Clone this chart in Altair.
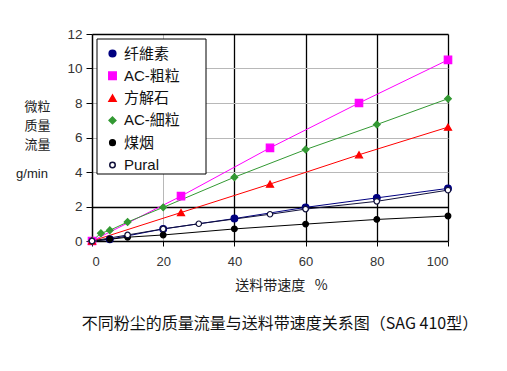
import altair as alt
import pandas as pd

series_names = ["纤維素", "AC-粗粒", "方解石", "AC-細粒", "煤烟", "Pural"]

x_fiber = [0, 5, 20, 40, 60, 80, 100]
y_fiber = [0, 0.1, 0.7, 1.3, 1.95, 2.5, 3.05]
x_acc = [0, 25, 50, 75, 100]
y_acc = [0, 2.6, 5.4, 8.0, 10.5]
x_calc = [0, 25, 50, 75, 100]
y_calc = [0, 1.65, 3.3, 5.0, 6.6]
x_acf = [0, 2.5, 5, 10, 20, 40, 60, 80, 100]
y_acf = [0, 0.45, 0.62, 1.1, 1.95, 3.7, 5.3, 6.75, 8.25]
x_soot = [0, 5, 10, 20, 40, 60, 80, 100]
y_soot = [0, 0.1, 0.22, 0.35, 0.7, 0.98, 1.25, 1.45]
x_pural = [0, 10, 20, 30, 50, 60, 80, 100]
y_pural = [0, 0.35, 0.7, 1.0, 1.55, 1.85, 2.3, 2.95]

x_ticks = [0, 20, 40, 60, 80, 100]
y_ticks = [0, 2, 4, 6, 8, 10, 12]
caption = "不同粉尘的质量流量与送料带速度关系图（SAG 410型）"
x_title = "送料带速度\u00a0\u00a0\u00a0%"
y_title = ["微粒", "质量", "流量"]
y_unit = "g/min"

fill_colors = ["#000080", "#ff00ff", "#ff0000", "#339933", "#000000", "#ffffff"]
stroke_colors = ["#000080", "#ff00ff", "#ff0000", "#339933", "#000000", "#10103a"]
shapes = ["circle", "square", "triangle-up", "diamond", "circle", "circle"]
sizes = [45, 55, 50, 45, 32, 30]

rows = []
for name, xs, ys in zip(series_names,
                        [x_fiber, x_acc, x_calc, x_acf, x_soot, x_pural],
                        [y_fiber, y_acc, y_calc, y_acf, y_soot, y_pural]):
    for i, (a, b) in enumerate(zip(xs, ys)):
        rows.append({"series": name, "speed": a, "flow": b, "order": i})
df = pd.DataFrame(rows)

FONT = "Liberation Sans, Noto Sans CJK SC"
CJK = "Noto Sans CJK SC"
LIGHT = "#b8b8b8"

x_axis = alt.Axis(values=x_ticks, title=x_title,
                  titleX=189, titleY=44, titleBaseline="middle",
                  titleFont=CJK, titleFontSize=14, titleFontWeight="normal",
                  titleColor="#222",
                  labelFont=FONT, labelFontSize=13, labelColor="#333",
                  labelPadding=9, tickSize=5, tickColor="black",
                  domainColor="black", domainWidth=1.5,
                  grid=True,
                  gridColor={"condition": {"test": "datum.value >= 40", "value": "#000000"}, "value": LIGHT},
                  gridWidth={"condition": {"test": "datum.value >= 40", "value": 1.3}, "value": 1})
y_axis = alt.Axis(values=y_ticks, title=y_title,
                  titleAngle=0, titleX=-55, titleY=66, titleAlign="center",
                  titleBaseline="top", titleLineHeight=19,
                  titleFont=CJK, titleFontSize=13, titleFontWeight="normal",
                  titleColor="#222",
                  labelFont=FONT, labelFontSize=13.5, labelColor="#333",
                  labelPadding=4, tickSize=6, tickColor="black",
                  domainColor="black", domainWidth=1.5,
                  grid=True,
                  gridColor={"condition": {"test": "datum.value == 2 || datum.value == 12", "value": "#000000"}, "value": LIGHT},
                  gridWidth={"condition": {"test": "datum.value == 2 || datum.value == 12", "value": 1.5}, "value": 1})

x_enc = alt.X("speed:Q", scale=alt.Scale(domain=[0, 100], nice=False), axis=x_axis)
y_enc = alt.Y("flow:Q", scale=alt.Scale(domain=[0, 12], nice=False), axis=y_axis)

base = alt.Chart(df)

lines = base.mark_line(strokeWidth=1).encode(
    x=x_enc, y=y_enc,
    stroke=alt.Stroke("series:N", scale=alt.Scale(domain=series_names, range=stroke_colors), title=None),
    detail="series:N",
    order="order:Q",
)

points = base.mark_point(opacity=1, fillOpacity=1, strokeWidth=1.2).encode(
    x=x_enc, y=y_enc,
    fill=alt.Fill("series:N", scale=alt.Scale(domain=series_names, range=fill_colors), title=None),
    stroke=alt.Stroke("series:N", scale=alt.Scale(domain=series_names, range=stroke_colors), title=None),
    shape=alt.Shape("series:N", scale=alt.Scale(domain=series_names, range=shapes), title=None),
    size=alt.Size("series:N", scale=alt.Scale(type="ordinal", domain=series_names, range=sizes), title=None),
)

box = alt.Chart(pd.DataFrame({"a": [1]})).mark_rect(fill="white", stroke="black", strokeWidth=1).encode(
    x=alt.value(5), x2=alt.value(114), y=alt.value(5), y2=alt.value(140)
)

unit = alt.Chart(pd.DataFrame({"t": [y_unit]})).mark_text(
    font=FONT, fontSize=13, color="#222", align="center", baseline="middle"
).encode(text="t:N", x=alt.value(-60), y=alt.value(140))

cap = alt.Chart(pd.DataFrame({"t": [caption]})).mark_text(
    font=CJK, fontSize=16, color="#111", align="center", baseline="middle"
).encode(text="t:N", x=alt.value(188), y=alt.value(290))

chart = alt.layer(lines, box, points, unit, cap).properties(
    width=356, height=207,
    padding={"left": 84, "top": 26, "right": 40, "bottom": 110},
    autosize="none",
).configure_view(stroke=None).configure_legend(
    orient="none", legendX=13, legendY=12, padding=0,
    rowPadding=6.3, labelFont=FONT, labelFontSize=15, labelColor="#111",
    symbolOffset=0, labelOffset=4, strokeColor=None,
)

chart.save("out.html", embed_options={"renderer": "svg", "actions": False})
